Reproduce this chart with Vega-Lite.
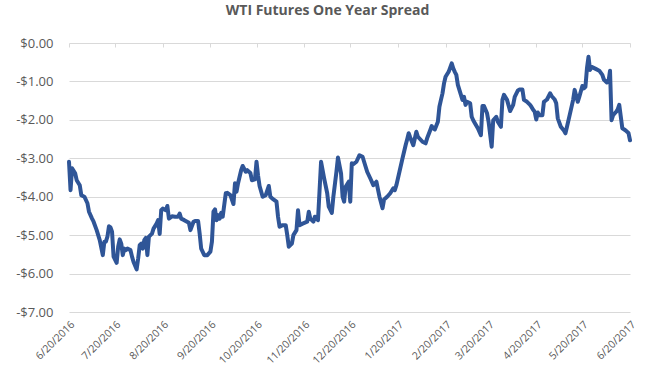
{
  "$schema": "https://vega.github.io/schema/vega-lite/v6.json",
  "width": 561,
  "height": 269,
  "autosize": {"type": "none"},
  "padding": {"left": 69, "top": 43, "right": 23, "bottom": 56},
  "background": "white",
  "title": {"text": "WTI Futures One Year Spread", "font": "Open Sans", "fontSize": 14, "fontWeight": "bold", "color": "#595959", "anchor": "middle", "frame": "group", "dx": -22, "offset": 19},
  "config": {"view": {"stroke": null}},
  "data": {"values": [
    {"date":"2016/06/20","spread":-3.09},{"date":"2016/06/21","spread":-3.83},{"date":"2016/06/22","spread":-3.26},{"date":"2016/06/24","spread":-3.39},{"date":"2016/06/25","spread":-3.57},{"date":"2016/06/27","spread":-3.70},{"date":"2016/06/28","spread":-3.96},{"date":"2016/06/30","spread":-4.00},
    {"date":"2016/07/02","spread":-4.17},{"date":"2016/07/03","spread":-4.39},{"date":"2016/07/05","spread":-4.57},{"date":"2016/07/06","spread":-4.65},{"date":"2016/07/08","spread":-4.87},{"date":"2016/07/10","spread":-5.13},{"date":"2016/07/12","spread":-5.52},{"date":"2016/07/13","spread":-5.17},{"date":"2016/07/14","spread":-5.17},{"date":"2016/07/15","spread":-5.04},{"date":"2016/07/16","spread":-4.77},{"date":"2016/07/17","spread":-4.80},{"date":"2016/07/18","spread":-4.91},{"date":"2016/07/19","spread":-5.56},{"date":"2016/07/21","spread":-5.72},{"date":"2016/07/22","spread":-5.30},{"date":"2016/07/23","spread":-5.11},{"date":"2016/07/24","spread":-5.22},{"date":"2016/07/25","spread":-5.52},{"date":"2016/07/26","spread":-5.35},{"date":"2016/07/27","spread":-5.39},{"date":"2016/07/28","spread":-5.35},{"date":"2016/07/30","spread":-5.39},{"date":"2016/07/31","spread":-5.56},
    {"date":"2016/08/01","spread":-5.70},{"date":"2016/08/03","spread":-5.89},{"date":"2016/08/04","spread":-5.61},{"date":"2016/08/05","spread":-5.26},{"date":"2016/08/06","spread":-5.22},{"date":"2016/08/07","spread":-5.35},{"date":"2016/08/08","spread":-5.13},{"date":"2016/08/09","spread":-5.07},{"date":"2016/08/10","spread":-5.52},{"date":"2016/08/11","spread":-5.04},{"date":"2016/08/13","spread":-4.96},{"date":"2016/08/14","spread":-4.83},{"date":"2016/08/16","spread":-4.70},{"date":"2016/08/17","spread":-4.61},{"date":"2016/08/18","spread":-4.97},{"date":"2016/08/19","spread":-4.35},{"date":"2016/08/20","spread":-4.31},{"date":"2016/08/22","spread":-4.35},{"date":"2016/08/23","spread":-4.24},{"date":"2016/08/24","spread":-4.57},{"date":"2016/08/26","spread":-4.51},{"date":"2016/08/28","spread":-4.52},{"date":"2016/08/30","spread":-4.52},{"date":"2016/08/31","spread":-4.44},
    {"date":"2016/09/01","spread":-4.57},{"date":"2016/09/03","spread":-4.61},{"date":"2016/09/06","spread":-4.68},{"date":"2016/09/07","spread":-4.87},{"date":"2016/09/09","spread":-4.65},{"date":"2016/09/10","spread":-4.63},{"date":"2016/09/12","spread":-4.63},{"date":"2016/09/13","spread":-4.96},{"date":"2016/09/14","spread":-5.35},{"date":"2016/09/16","spread":-5.52},{"date":"2016/09/18","spread":-5.52},{"date":"2016/09/20","spread":-5.43},{"date":"2016/09/21","spread":-5.17},{"date":"2016/09/22","spread":-4.39},{"date":"2016/09/23","spread":-4.33},{"date":"2016/09/24","spread":-4.61},{"date":"2016/09/25","spread":-4.48},{"date":"2016/09/26","spread":-4.57},{"date":"2016/09/27","spread":-4.42},{"date":"2016/09/28","spread":-4.52},{"date":"2016/09/30","spread":-3.91},
    {"date":"2016/10/01","spread":-3.90},{"date":"2016/10/03","spread":-3.96},{"date":"2016/10/05","spread":-4.19},{"date":"2016/10/06","spread":-3.65},{"date":"2016/10/07","spread":-3.87},{"date":"2016/10/08","spread":-3.65},{"date":"2016/10/10","spread":-3.31},{"date":"2016/10/11","spread":-3.20},{"date":"2016/10/13","spread":-3.35},{"date":"2016/10/14","spread":-3.31},{"date":"2016/10/16","spread":-3.38},{"date":"2016/10/17","spread":-3.57},{"date":"2016/10/19","spread":-3.55},{"date":"2016/10/20","spread":-3.09},{"date":"2016/10/21","spread":-3.45},{"date":"2016/10/22","spread":-3.72},{"date":"2016/10/24","spread":-4.00},{"date":"2016/10/26","spread":-3.96},{"date":"2016/10/28","spread":-3.72},{"date":"2016/10/29","spread":-4.00},{"date":"2016/10/31","spread":-4.07},
    {"date":"2016/11/02","spread":-4.13},{"date":"2016/11/03","spread":-4.52},{"date":"2016/11/04","spread":-4.78},{"date":"2016/11/06","spread":-4.74},{"date":"2016/11/08","spread":-4.74},{"date":"2016/11/09","spread":-5.00},{"date":"2016/11/10","spread":-5.30},{"date":"2016/11/12","spread":-5.22},{"date":"2016/11/13","spread":-5.00},{"date":"2016/11/15","spread":-4.87},{"date":"2016/11/16","spread":-4.35},{"date":"2016/11/17","spread":-4.74},{"date":"2016/11/19","spread":-4.70},{"date":"2016/11/22","spread":-4.65},{"date":"2016/11/23","spread":-4.39},{"date":"2016/11/24","spread":-4.57},{"date":"2016/11/26","spread":-4.65},{"date":"2016/11/27","spread":-4.52},{"date":"2016/11/29","spread":-4.61},
    {"date":"2016/12/01","spread":-3.09},{"date":"2016/12/03","spread":-3.52},{"date":"2016/12/05","spread":-3.91},{"date":"2016/12/06","spread":-4.26},{"date":"2016/12/08","spread":-4.42},{"date":"2016/12/09","spread":-4.00},{"date":"2016/12/11","spread":-3.35},{"date":"2016/12/12","spread":-2.98},{"date":"2016/12/14","spread":-3.39},{"date":"2016/12/15","spread":-4.00},{"date":"2016/12/16","spread":-4.13},{"date":"2016/12/17","spread":-3.74},{"date":"2016/12/19","spread":-3.61},{"date":"2016/12/20","spread":-4.13},{"date":"2016/12/21","spread":-3.13},{"date":"2016/12/22","spread":-3.15},{"date":"2016/12/24","spread":-3.09},{"date":"2016/12/26","spread":-2.92},{"date":"2016/12/28","spread":-2.96},{"date":"2016/12/30","spread":-3.22},{"date":"2016/12/31","spread":-3.35},
    {"date":"2017/01/02","spread":-3.52},{"date":"2017/01/04","spread":-3.70},{"date":"2017/01/06","spread":-3.61},{"date":"2017/01/08","spread":-4.00},{"date":"2017/01/10","spread":-4.30},{"date":"2017/01/11","spread":-4.07},{"date":"2017/01/13","spread":-4.00},{"date":"2017/01/15","spread":-3.91},{"date":"2017/01/17","spread":-3.78},{"date":"2017/01/18","spread":-3.83},{"date":"2017/01/19","spread":-3.70},{"date":"2017/01/21","spread":-3.35},{"date":"2017/01/23","spread":-3.00},{"date":"2017/01/25","spread":-2.66},{"date":"2017/01/26","spread":-2.51},{"date":"2017/01/27","spread":-2.35},{"date":"2017/01/28","spread":-2.46},{"date":"2017/01/30","spread":-2.66},
    {"date":"2017/02/01","spread":-2.31},{"date":"2017/02/02","spread":-2.44},{"date":"2017/02/05","spread":-2.57},{"date":"2017/02/07","spread":-2.61},{"date":"2017/02/08","spread":-2.48},{"date":"2017/02/10","spread":-2.27},{"date":"2017/02/11","spread":-2.16},{"date":"2017/02/12","spread":-2.22},{"date":"2017/02/13","spread":-2.25},{"date":"2017/02/15","spread":-2.05},{"date":"2017/02/16","spread":-1.66},{"date":"2017/02/17","spread":-1.48},{"date":"2017/02/18","spread":-1.31},{"date":"2017/02/19","spread":-1.05},{"date":"2017/02/20","spread":-0.88},{"date":"2017/02/22","spread":-0.75},{"date":"2017/02/24","spread":-0.53},{"date":"2017/02/25","spread":-0.66},{"date":"2017/02/26","spread":-0.75},{"date":"2017/02/27","spread":-0.83},{"date":"2017/02/28","spread":-1.09},
    {"date":"2017/03/01","spread":-1.22},{"date":"2017/03/03","spread":-1.48},{"date":"2017/03/04","spread":-1.40},{"date":"2017/03/05","spread":-1.61},{"date":"2017/03/06","spread":-1.53},{"date":"2017/03/08","spread":-1.57},{"date":"2017/03/09","spread":-1.92},{"date":"2017/03/10","spread":-2.01},{"date":"2017/03/11","spread":-2.08},{"date":"2017/03/13","spread":-2.22},{"date":"2017/03/15","spread":-2.40},{"date":"2017/03/16","spread":-1.64},{"date":"2017/03/17","spread":-1.64},{"date":"2017/03/19","spread":-1.83},{"date":"2017/03/20","spread":-2.05},{"date":"2017/03/22","spread":-2.70},{"date":"2017/03/23","spread":-2.01},{"date":"2017/03/25","spread":-1.92},{"date":"2017/03/26","spread":-2.05},{"date":"2017/03/28","spread":-2.18},{"date":"2017/03/29","spread":-1.48},{"date":"2017/03/30","spread":-1.35},
    {"date":"2017/04/01","spread":-1.48},{"date":"2017/04/03","spread":-1.77},{"date":"2017/04/05","spread":-1.61},{"date":"2017/04/06","spread":-1.40},{"date":"2017/04/08","spread":-1.24},{"date":"2017/04/09","spread":-1.21},{"date":"2017/04/11","spread":-1.21},{"date":"2017/04/12","spread":-1.48},{"date":"2017/04/14","spread":-1.53},{"date":"2017/04/16","spread":-1.61},{"date":"2017/04/17","spread":-1.67},{"date":"2017/04/18","spread":-1.74},{"date":"2017/04/19","spread":-1.79},{"date":"2017/04/20","spread":-1.99},{"date":"2017/04/21","spread":-1.81},{"date":"2017/04/22","spread":-1.88},{"date":"2017/04/24","spread":-1.88},{"date":"2017/04/25","spread":-1.53},{"date":"2017/04/27","spread":-1.47},{"date":"2017/04/29","spread":-1.31},{"date":"2017/04/30","spread":-1.38},
    {"date":"2017/05/02","spread":-1.47},{"date":"2017/05/03","spread":-1.57},{"date":"2017/05/04","spread":-1.96},{"date":"2017/05/06","spread":-2.18},{"date":"2017/05/08","spread":-2.28},{"date":"2017/05/09","spread":-2.35},{"date":"2017/05/10","spread":-2.18},{"date":"2017/05/12","spread":-1.83},{"date":"2017/05/14","spread":-1.48},{"date":"2017/05/15","spread":-1.22},{"date":"2017/05/17","spread":-1.53},{"date":"2017/05/18","spread":-1.40},{"date":"2017/05/20","spread":-1.12},{"date":"2017/05/21","spread":-1.18},{"date":"2017/05/22","spread":-1.14},{"date":"2017/05/23","spread":-0.66},{"date":"2017/05/24","spread":-0.36},{"date":"2017/05/25","spread":-0.70},{"date":"2017/05/26","spread":-0.62},{"date":"2017/05/28","spread":-0.66},{"date":"2017/05/29","spread":-0.68},{"date":"2017/05/31","spread":-0.72},
    {"date":"2017/06/02","spread":-0.83},{"date":"2017/06/03","spread":-0.95},{"date":"2017/06/05","spread":-1.03},{"date":"2017/06/06","spread":-1.01},{"date":"2017/06/07","spread":-0.72},{"date":"2017/06/08","spread":-2.01},{"date":"2017/06/09","spread":-1.88},{"date":"2017/06/11","spread":-1.79},{"date":"2017/06/12","spread":-1.73},{"date":"2017/06/13","spread":-1.61},{"date":"2017/06/15","spread":-2.22},{"date":"2017/06/17","spread":-2.27},{"date":"2017/06/19","spread":-2.34},{"date":"2017/06/20","spread":-2.53}
  ]},
  "layer": [
    {
      "mark": {"type": "line", "color": "#2F5597", "strokeWidth": 4, "strokeJoin": "round", "strokeCap": "round"},
      "encoding": {
        "x": {"field": "date", "type": "temporal",
          "scale": {"domain": [{"year": 2016, "month": 6, "date": 20}, {"year": 2017, "month": 6, "date": 20}], "nice": false},
          "axis": {"orient": "bottom", "title": null,
            "values": [{"year":2016,"month":6,"date":20},{"year":2016,"month":7,"date":20},{"year":2016,"month":8,"date":20},{"year":2016,"month":9,"date":20},{"year":2016,"month":10,"date":20},{"year":2016,"month":11,"date":20},{"year":2016,"month":12,"date":20},{"year":2017,"month":1,"date":20},{"year":2017,"month":2,"date":20},{"year":2017,"month":3,"date":20},{"year":2017,"month":4,"date":20},{"year":2017,"month":5,"date":20},{"year":2017,"month":6,"date":20}],
            "labelExpr": "timeFormat(datum.value, '%-m/%-d/%Y')",
            "labelAngle": -45, "ticks": false, "domain": false, "grid": false,
            "labelFont": "Open Sans", "labelFontSize": 10.5, "labelColor": "#595959", "labelPadding": 7, "labelOverlap": false, "labelBound": false}},
        "y": {"field": "spread", "type": "quantitative",
          "scale": {"domain": [-7, 0], "nice": false},
          "axis": {"title": null, "values": [0, -1, -2, -3, -4, -5, -6, -7],
            "labelExpr": "datum.value < 0 ? '-$' + format(-datum.value, '.2f') : '$' + format(datum.value, '.2f')",
            "ticks": false, "domain": false, "grid": true, "gridColor": "#D9D9D9", "gridWidth": 1, "labelOverlap": false, "labelBound": false, "labelFlush": false,
            "labelFont": "Open Sans", "labelFontSize": 13, "labelColor": "#595959", "labelPadding": 16}}
      }
    },
    {
      "mark": {"type": "line", "opacity": 0},
      "encoding": {
        "x": {"field": "date", "type": "temporal",
          "axis": {"orient": "top", "title": null, "labels": false, "domain": false, "grid": false, "ticks": true, "tickSize": -4, "tickColor": "#D9D9D9",
            "values": [{"year":2016,"month":6,"date":20},{"year":2016,"month":7,"date":20},{"year":2016,"month":8,"date":20},{"year":2016,"month":9,"date":20},{"year":2016,"month":10,"date":20},{"year":2016,"month":11,"date":20},{"year":2016,"month":12,"date":20},{"year":2017,"month":1,"date":20},{"year":2017,"month":2,"date":20},{"year":2017,"month":3,"date":20},{"year":2017,"month":4,"date":20},{"year":2017,"month":5,"date":20},{"year":2017,"month":6,"date":20}]}},
        "y": {"field": "spread", "type": "quantitative",
          "axis": {"title": null, "values": [0, -1, -2, -3, -4, -5, -6, -7],
            "labelExpr": "datum.value < 0 ? '-$' + format(-datum.value, '.2f') : '$' + format(datum.value, '.2f')",
            "ticks": false, "domain": false, "grid": true, "gridColor": "#D9D9D9", "gridWidth": 1, "labelOverlap": false, "labelBound": false, "labelFlush": false,
            "labelFont": "Open Sans", "labelFontSize": 13, "labelColor": "#595959", "labelPadding": 16}}
      }
    }
  ],
  "resolve": {"axis": {"x": "independent"}}
}
